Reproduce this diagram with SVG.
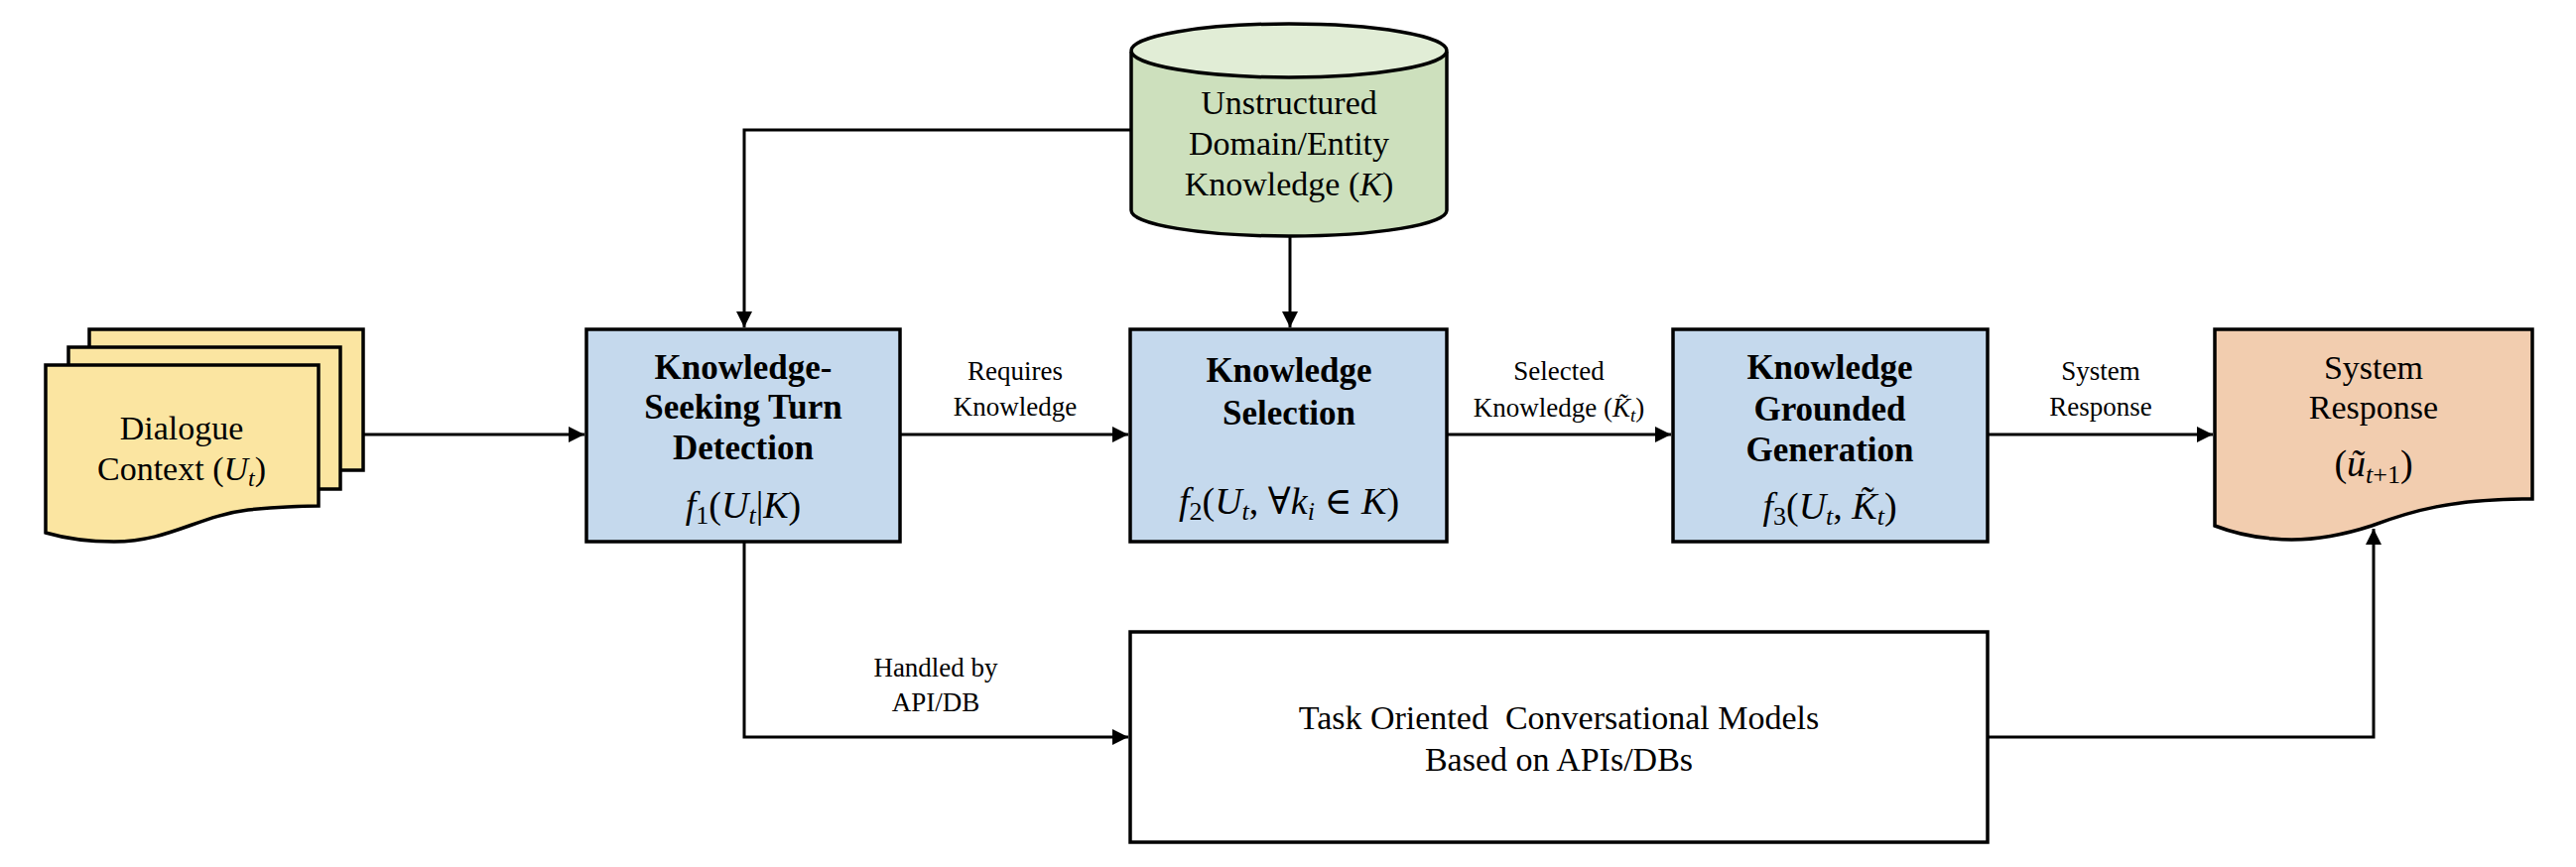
<svg xmlns="http://www.w3.org/2000/svg" width="2596" height="874" viewBox="0 0 2596 874">
<style>
.b{stroke:#000;stroke-width:3.5}
.ln{fill:none;stroke:#000;stroke-width:3}
.t{font-family:"Liberation Serif","Times New Roman",serif;fill:#000;text-anchor:middle}
.tb{font-size:35px;font-weight:bold}
.tn{font-size:34px}
.tl{font-size:27px}
.m{font-family:"Liberation Serif","DejaVu Serif",serif;font-size:38px;fill:#000;text-anchor:middle}
.i{font-style:italic}
</style>
<defs>
<marker id="ah" viewBox="0 0 16 16" refX="16" refY="8" markerWidth="16" markerHeight="16" markerUnits="userSpaceOnUse" orient="auto">
<path d="M0,0 L16,8 L0,16 Z" fill="#000"/>
</marker>
</defs>
<g id="connectors">
<path class="ln" d="M366,438 H589" marker-end="url(#ah)"/>
<path class="ln" d="M1140,131 H750 V330" marker-end="url(#ah)"/>
<path class="ln" d="M1300,239 V330" marker-end="url(#ah)"/>
<path class="ln" d="M907,438 H1137" marker-end="url(#ah)"/>
<path class="ln" d="M1458,438 H1684" marker-end="url(#ah)"/>
<path class="ln" d="M2003,438 H2230" marker-end="url(#ah)"/>
<path class="ln" d="M750,546 V743 H1137" marker-end="url(#ah)"/>
<path class="ln" d="M2003,743 H2392 V533" marker-end="url(#ah)"/>
<text class="t tl" x="1023" y="383">Requires</text>
<text class="t tl" x="1023" y="419">Knowledge</text>
<text class="t tl" x="1571" y="383">Selected</text>
<text class="t tl" x="1571" y="420">Knowledge (<tspan class="i">K̃</tspan><tspan class="i" font-size="19" dy="5">t</tspan><tspan dy="-5">)</tspan></text>
<text class="t tl" x="2117" y="383">System</text>
<text class="t tl" x="2117" y="419">Response</text>
<text class="t tl" x="943" y="682">Handled by</text>
<text class="t tl" x="943" y="717">API/DB</text>
</g>
<g id="dialogue-context">
<rect x="90" y="332" width="276" height="142" fill="#FBE5A1" class="b"/>
<rect x="69" y="350" width="274" height="143" fill="#FBE5A1" class="b"/>
<path d="M46,368 H321 V510 C300,510 280,511 250,514 C200,520 170,546 115,546 C95,546 70,544 46,537 Z" fill="#FBE5A1" class="b"/>
<text class="t tn" x="183" y="443">Dialogue</text>
<text class="t tn" x="183" y="484">Context (<tspan class="i">U</tspan><tspan class="i" font-size="24" dy="6">t</tspan><tspan dy="-6">)</tspan></text>
</g>
<g id="knowledge-base">
<path d="M1140,52 V212 A159,26 0 0 0 1458,212 V52" fill="#CDE0BD" class="b"/>
<ellipse cx="1299" cy="51" rx="159" ry="27" fill="#E1EDD6" class="b"/>
<text class="t tn" x="1299" y="115">Unstructured</text>
<text class="t tn" x="1299" y="156">Domain/Entity</text>
<text class="t tn" x="1299" y="197">Knowledge (<tspan class="i">K</tspan>)</text>
</g>
<g id="turn-detection">
<rect x="591" y="332" width="316" height="214" fill="#C5D9ED" class="b"/>
<text class="t tb" x="749" y="382">Knowledge-</text>
<text class="t tb" x="749" y="422">Seeking Turn</text>
<text class="t tb" x="749" y="463">Detection</text>
<text class="m" x="749" y="522"><tspan class="i">f</tspan><tspan font-size="26" dy="6">1</tspan><tspan dy="-6">(</tspan><tspan class="i">U</tspan><tspan class="i" font-size="26" dy="6">t</tspan><tspan dy="-6">|</tspan><tspan class="i">K</tspan>)</text>
</g>
<g id="knowledge-selection">
<rect x="1139" y="332" width="319" height="214" fill="#C5D9ED" class="b"/>
<text class="t tb" x="1299" y="385">Knowledge</text>
<text class="t tb" x="1299" y="428">Selection</text>
<text class="m" x="1299" y="518"><tspan class="i">f</tspan><tspan font-size="26" dy="6">2</tspan><tspan dy="-6">(</tspan><tspan class="i">U</tspan><tspan class="i" font-size="26" dy="6">t</tspan><tspan dy="-6">, ∀</tspan><tspan class="i">k</tspan><tspan class="i" font-size="26" dy="6">i</tspan><tspan dy="-6"> ∈ </tspan><tspan class="i">K</tspan>)</text>
</g>
<g id="grounded-generation">
<rect x="1686" y="332" width="317" height="214" fill="#C5D9ED" class="b"/>
<text class="t tb" x="1844" y="382">Knowledge</text>
<text class="t tb" x="1844" y="424">Grounded</text>
<text class="t tb" x="1844" y="465">Generation</text>
<text class="m" x="1844" y="523"><tspan class="i">f</tspan><tspan font-size="26" dy="6">3</tspan><tspan dy="-6">(</tspan><tspan class="i">U</tspan><tspan class="i" font-size="26" dy="6">t</tspan><tspan dy="-6">, </tspan><tspan class="i">K̃</tspan><tspan class="i" font-size="26" dy="6">t</tspan><tspan dy="-6">)</tspan></text>
</g>
<g id="system-response">
<path d="M2232,332 H2552 V503 C2470,503 2430,515 2390,530 C2350,543 2320,546 2290,543 C2265,541 2245,535 2232,530 Z" fill="#F2CDAF" class="b"/>
<text class="t tn" x="2392" y="382">System</text>
<text class="t tn" x="2392" y="422">Response</text>
<text class="m" x="2392" y="480">(<tspan class="i">ũ</tspan><tspan class="i" font-size="26" dy="7">t</tspan><tspan font-size="26">+1</tspan><tspan dy="-7">)</tspan></text>
</g>
<g id="task-oriented">
<rect x="1139" y="637" width="864" height="212" fill="#FFFFFF" class="b"/>
<text class="t tn" x="1571" y="735" style="white-space:pre">Task Oriented  Conversational Models</text>
<text class="t tn" x="1571" y="777">Based on APIs/DBs</text>
</g>
</svg>
